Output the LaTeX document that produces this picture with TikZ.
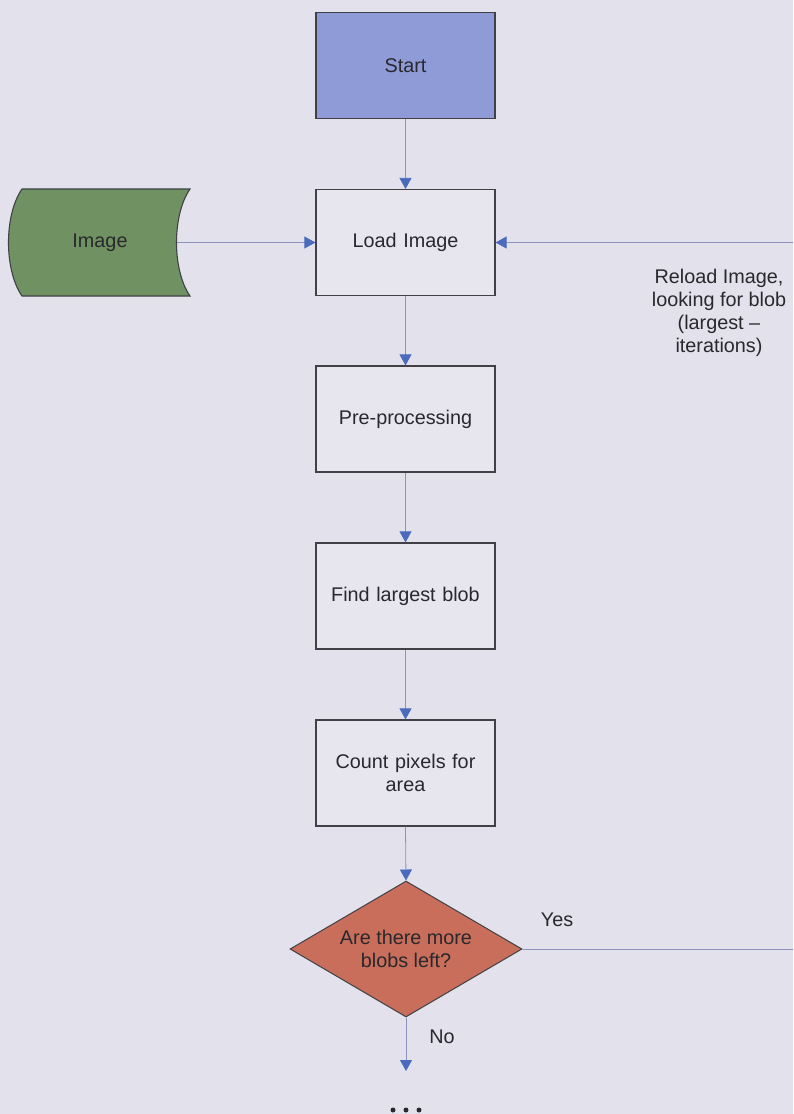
\documentclass[tikz,border=0pt]{standalone}
\usepackage{fontspec}
\setmainfont{Liberation Sans}
\usetikzlibrary{arrows.meta,shapes.geometric}

\definecolor{bg}{RGB}{226,225,236}
\definecolor{boxfill}{RGB}{231,230,239}
\definecolor{startfill}{RGB}{143,155,214}
\definecolor{imgfill}{RGB}{112,146,98}
\definecolor{decfill}{RGB}{200,110,90}
\definecolor{edge}{RGB}{64,64,70}
\definecolor{link}{RGB}{140,148,190}
\definecolor{tip}{RGB}{74,106,190}
\definecolor{txt}{RGB}{40,40,45}

\tikzset{
  bodyfont/.style={font=\fontsize{19.8}{23}\selectfont, text=txt},
  procbox/.style={draw=edge, line width=1.2pt, fill=boxfill, minimum width=179pt,
    minimum height=106pt, align=center, text width=165pt, bodyfont},
  decision/.style={diamond, draw=edge, line width=1pt, fill=decfill, aspect=1.7,
    minimum width=232pt, minimum height=136pt, inner sep=0pt, align=center, bodyfont},
  lbl/.style={bodyfont, align=center},
  flow/.style={draw=link, line width=0.8pt, -{Triangle[length=11pt,width=12pt,fill=tip,color=tip]}},
  plainflow/.style={draw=link, line width=0.8pt}
}

\begin{document}
\begin{tikzpicture}[x=1pt,y=-1pt]
  % canvas
  \fill[bg] (0,0) rectangle (793,1114);
  \useasboundingbox (0,0) rectangle (793,1114);
  \clip (0,0) rectangle (793,1114);

  % process column
  \node[procbox, fill=startfill] (start) at (405.5,65.5) {Start};
  \node[procbox] (load) at (405.5,242.5) {Load Image};
  \node[procbox] (pre) at (405.5,419) {Pre-processing};
  \node[procbox] (find) at (405.5,596) {Find largest blob};
  \node[procbox] (count) at (405.5,773) {Count pixels for\\area};
  \node[decision] (more) at (406,949) {Are there more\\blobs left?};

  % stored data shape: convex left side, concave right side
  \draw[draw=edge, line width=1.1pt, fill=imgfill]
    (22,189) -- (190,189) .. controls (172,215) and (172,270) .. (190,296)
    -- (22,296) .. controls (4,270) and (4,215) .. (22,189) -- cycle;
  \node[lbl] (img) at (100,242.5) {Image};
  \coordinate (imgout) at (177,242.5);

  % connectors down the column
  \draw[flow] (start.south) -- (load.north);
  \draw[flow] (load.south) -- (pre.north);
  \draw[flow] (pre.south) -- (find.north);
  \draw[flow] (find.south) -- (count.north);
  \draw[flow] (count.south) -- (more.north);
  \coordinate (next) at (406,1071);
  \draw[flow] (more.south) -- (next);

  % input from the image
  \draw[flow] (imgout) -- (load.west);

  % loop back when more blobs remain
  \coordinate (loopbot) at (800,949);
  \coordinate (looptop) at (800,242.5);
  \draw[plainflow] (more.east) -- (loopbot) -- (looptop);
  \draw[flow] (looptop) -- (load.east);

  % labels
  \node[lbl] (reload) at (719,313) {Reload Image,\\looking for blob\\(largest --\\iterations)};
  \node[lbl] (yes) at (557,920) {Yes};
  \node[lbl] (no) at (442,1037) {No};

  % continuation dots
  \foreach \dx in {-13,0,13}
    \fill[txt] (406+\dx,1110) circle (2.5pt);
\end{tikzpicture}
\end{document}
